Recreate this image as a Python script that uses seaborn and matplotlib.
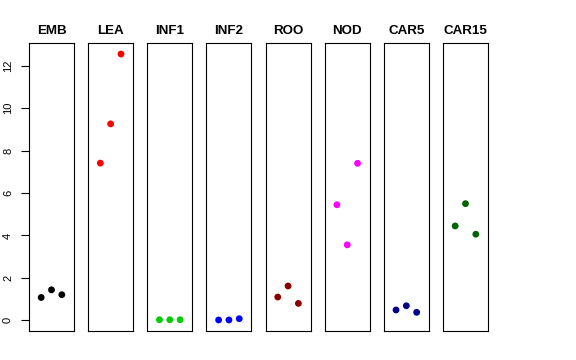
import matplotlib
matplotlib.use("Agg")
import matplotlib.pyplot as plt
import seaborn as sns
import pandas as pd

tissues = ["EMB", "LEA", "INF1", "INF2", "ROO", "NOD", "CAR5", "CAR15"]
colors = ["#000000", "#FF0000", "#00CD00", "#0000FF", "#8B0000", "#FF00FF", "#00008B", "#006400"]
rep1 = [1.08, 7.41, 0.03, 0.02, 1.10, 5.45, 0.49, 4.45]
rep2 = [1.44, 9.26, 0.03, 0.02, 1.62, 3.56, 0.69, 5.50]
rep3 = [1.21, 12.55, 0.03, 0.08, 0.80, 7.40, 0.38, 4.06]
yticks = [0, 2, 4, 6, 8, 10, 12]

rows = []
for t, a, b, c in zip(tissues, rep1, rep2, rep3):
    for r, v in zip([1, 2, 3], [a, b, c]):
        rows.append({"tissue": t, "rep": r, "value": v})
df = pd.DataFrame(rows)

sns.set_theme(style="white")
plt.rcParams["font.family"] = ["Liberation Sans", "DejaVu Sans"]
plt.rcParams["text.color"] = "black"
plt.rcParams["axes.labelcolor"] = "black"
plt.rcParams["xtick.color"] = "black"
plt.rcParams["ytick.color"] = "black"

g = sns.relplot(data=df, x="rep", y="value", col="tissue", hue="tissue",
                col_order=tissues, hue_order=tissues, palette=colors,
                kind="scatter", legend=False, s=24, linewidth=0,
                height=3, aspect=0.2, facet_kws={"sharey": True, "sharex": True})
fig = g.figure
fig.set_size_inches(5.76, 3.6)
fig.subplots_adjust(left=29/576, right=488/576, top=1-43/360, bottom=1-331/360,
                    wspace=14.14/45)

for i, (ax, t) in enumerate(zip(g.axes.flat, tissues)):
    ax.set_xlim(-0.18, 4.18)
    ax.set_ylim(-0.5, 13.07)
    ax.set_xticks([])
    ax.set_xlabel("")
    ax.set_ylabel("")
    ax.set_title(t, fontsize=9.6, fontweight="bold", pad=6.5, color="black")
    for sp in ax.spines.values():
        sp.set_visible(True)
        sp.set_color("black")
        sp.set_linewidth(0.8)
    if i == 0:
        ax.set_yticks(yticks)
        ax.set_yticklabels([str(v) for v in yticks], rotation=90, va="center",
                           fontsize=8, color="black")
        ax.tick_params(axis="y", left=True, length=5.5, width=0.8, color="black", pad=6)
    else:
        ax.tick_params(axis="y", left=False, labelleft=False)

fig.savefig("out.png", dpi=100)
